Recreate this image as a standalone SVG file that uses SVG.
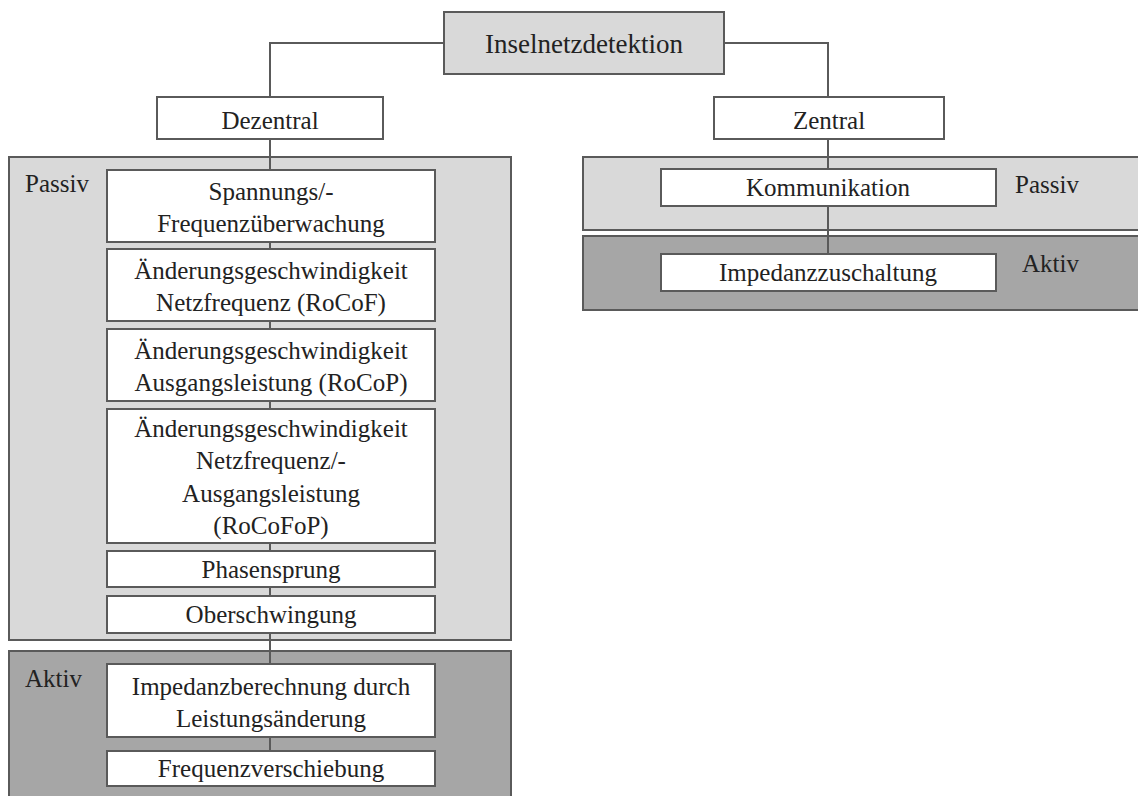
<svg xmlns="http://www.w3.org/2000/svg" width="1138" height="796" viewBox="0 0 1138 796">
  <style>
    text { font-size: 25px; fill: #222; text-anchor: middle; }
    text.lbl { text-anchor: start; }
    text.big { font-size: 27px; }
    .node { fill: #ffffff; stroke: #5a5a5a; stroke-width: 2; }
    .root { fill: #d9d9d9; stroke: #5a5a5a; stroke-width: 2; }
    .passiv { fill: #d9d9d9; stroke: #5a5a5a; stroke-width: 2; }
    .aktiv { fill: #a6a6a6; stroke: #5a5a5a; stroke-width: 2; }
    .conn { fill: none; stroke: #5a5a5a; stroke-width: 2; }
  </style>
  <rect width="1138" height="796" fill="#ffffff"/>

  <g font-family="Liberation Serif, serif">
  <!-- grouping panels -->
  <g id="panel-dezentral-passiv">
    <rect class="passiv" x="9" y="157" width="502" height="483"/>
    <text class="lbl" x="25" y="192">Passiv</text>
  </g>
  <g id="panel-dezentral-aktiv">
    <rect class="aktiv" x="9" y="651" width="502" height="160"/>
    <text class="lbl" x="25" y="687">Aktiv</text>
  </g>
  <g id="panel-zentral-passiv">
    <rect class="passiv" x="583" y="157" width="570" height="73"/>
    <text class="lbl" x="1015" y="193">Passiv</text>
  </g>
  <g id="panel-zentral-aktiv">
    <rect class="aktiv" x="583" y="236" width="570" height="74"/>
    <text class="lbl" x="1022" y="272">Aktiv</text>
  </g>

  <!-- connectors -->
  <g id="connectors">
    <polyline class="conn" points="444,43 270,43 270,97"/>
    <polyline class="conn" points="724,43 828,43 828,97"/>
    <line class="conn" x1="270" y1="139" x2="270" y2="751"/>
    <line class="conn" x1="828" y1="139" x2="828" y2="254"/>
  </g>

  <!-- nodes -->
  <g id="inselnetzdetektion">
    <rect class="root" x="444" y="12" width="280" height="62"/>
    <text class="big" x="584" y="53">Inselnetzdetektion</text>
  </g>
  <g id="dezentral">
    <rect class="node" x="157" y="97" width="226" height="42"/>
    <text x="270" y="129">Dezentral</text>
  </g>
  <g id="zentral">
    <rect class="node" x="714" y="97" width="230" height="42"/>
    <text x="829" y="129">Zentral</text>
  </g>
  <g id="spannung-frequenz">
    <rect class="node" x="107" y="170" width="328" height="72"/>
    <text x="271" y="200">Spannungs/-</text>
    <text x="271" y="232">Frequenzüberwachung</text>
  </g>
  <g id="rocof">
    <rect class="node" x="107" y="249" width="328" height="72"/>
    <text x="271" y="279">Änderungsgeschwindigkeit</text>
    <text x="271" y="311">Netzfrequenz (RoCoF)</text>
  </g>
  <g id="rocop">
    <rect class="node" x="107" y="329" width="328" height="72"/>
    <text x="271" y="359">Änderungsgeschwindigkeit</text>
    <text x="271" y="391">Ausgangsleistung (RoCoP)</text>
  </g>
  <g id="rocofop">
    <rect class="node" x="107" y="409" width="328" height="134"/>
    <text x="271" y="437">Änderungsgeschwindigkeit</text>
    <text x="271" y="469">Netzfrequenz/-</text>
    <text x="271" y="502">Ausgangsleistung</text>
    <text x="271" y="534">(RoCoFoP)</text>
  </g>
  <g id="phasensprung">
    <rect class="node" x="107" y="551" width="328" height="36"/>
    <text x="271" y="578">Phasensprung</text>
  </g>
  <g id="oberschwingung">
    <rect class="node" x="107" y="596" width="328" height="37"/>
    <text x="271" y="623">Oberschwingung</text>
  </g>
  <g id="impedanzberechnung">
    <rect class="node" x="107" y="664" width="328" height="73"/>
    <text x="271" y="695">Impedanzberechnung durch</text>
    <text x="271" y="727">Leistungsänderung</text>
  </g>
  <g id="frequenzverschiebung">
    <rect class="node" x="107" y="751" width="328" height="35"/>
    <text x="271" y="777">Frequenzverschiebung</text>
  </g>
  <g id="kommunikation">
    <rect class="node" x="661" y="169" width="335" height="37"/>
    <text x="828" y="196">Kommunikation</text>
  </g>
  <g id="impedanzzuschaltung">
    <rect class="node" x="661" y="254" width="335" height="37"/>
    <text x="828" y="281">Impedanzzuschaltung</text>
  </g>
  </g>
</svg>
